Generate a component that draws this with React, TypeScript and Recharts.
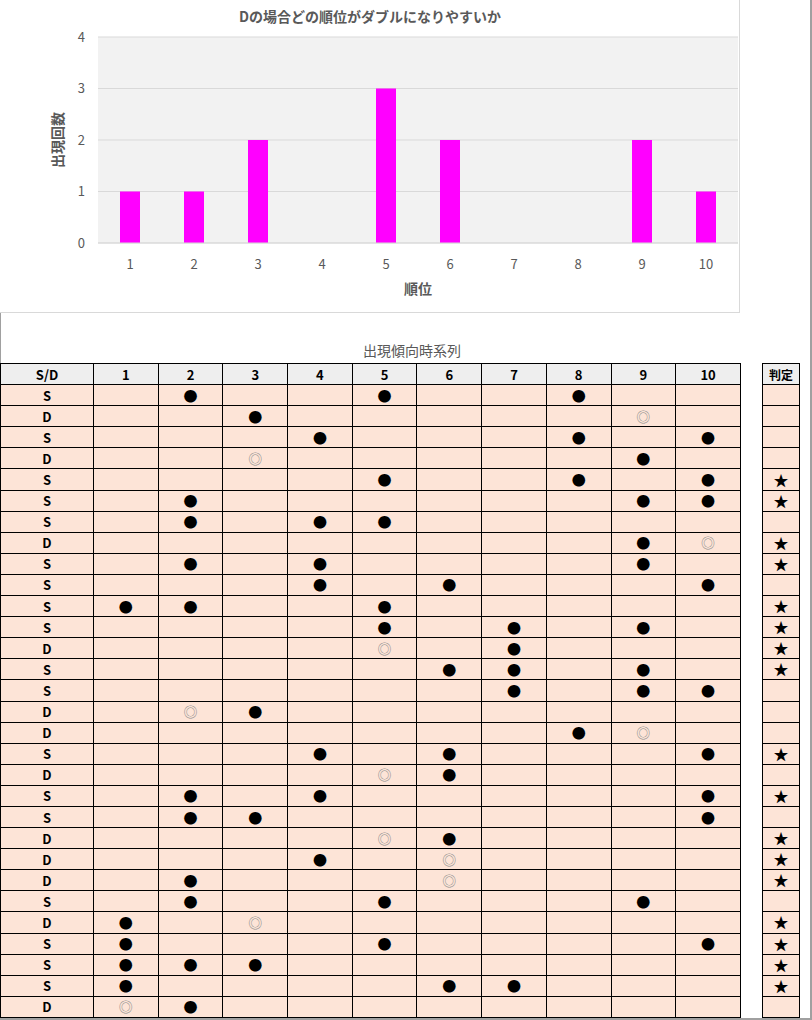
import React from 'react';
import { BarChart, Bar, XAxis, YAxis, CartesianGrid } from 'recharts';

const ranks = ['1', '2', '3', '4', '5', '6', '7', '8', '9', '10'];
const doubleCounts = [1, 1, 2, 0, 3, 2, 0, 0, 2, 1];
const yTicks = [0, 1, 2, 3, 4];

const sdTypes = ['S','D','S','D','S','S','S','D','S','S','S','S','D','S','S','D','D','S','D','S','S','D','D','D','S','D','S','S','S','D'];
const dotPositions = [
  [2, 5, 8], [3], [4, 8, 10], [9], [5, 8, 10], [2, 9, 10], [2, 4, 5], [9], [2, 4, 9], [4, 6, 10],
  [1, 2, 5], [5, 7, 9], [7], [6, 7, 9], [7, 9, 10], [3], [8], [4, 6, 10], [6], [2, 4, 10],
  [2, 3, 10], [6], [4], [2], [2, 5, 9], [1], [1, 5, 10], [1, 2, 3], [1, 6, 7], [2],
];
const doublePositions = [
  [], [9], [], [3], [], [], [], [10], [], [],
  [], [], [5], [], [], [2], [9], [], [5], [],
  [], [5], [6], [6], [], [3], [], [], [], [1],
];
const starFlags = [0,0,0,0,1,1,0,1,1,0,1,1,1,1,0,0,0,1,0,1,0,1,1,1,0,1,1,1,1,0];

const chartData = ranks.map((r, i) => ({ rank: r, count: doubleCounts[i] }));

const FONT = '"Noto Sans CJK JP", "Noto Sans", sans-serif';
const ROW_H = 21.1;
const cellBorder = '1px solid #000';

export default function App() {
  const tdBase: React.CSSProperties = {
    border: cellBorder,
    padding: 0,
    textAlign: 'center',
    verticalAlign: 'middle',
    background: '#fde4d7',
    fontSize: 13,
    lineHeight: '13px',
    height: ROW_H - 1,
    overflow: 'hidden',
  };
  const thBase: React.CSSProperties = {
    ...tdBase,
    background: '#eeeeee',
    fontWeight: 'bold',
  };
  const colW = (740 - 93) / 10;

  return (
    <div style={{ position: 'absolute', left: 0, top: 0, width: 812, height: 1020, background: '#fff', fontFamily: FONT, overflow: 'hidden' }}>
      {/* page edge lines */}
      <div style={{ position: 'absolute', left: 810, top: 0, width: 2, height: 1020, background: '#a0a0a0' }} />
      <div style={{ position: 'absolute', left: 0, top: 313, width: 1, height: 707, background: '#a0a0a0' }} />
      <div style={{ position: 'absolute', left: 0, top: 1018, width: 812, height: 2, background: '#a0a0a0' }} />

      {/* chart box */}
      <div style={{ position: 'absolute', left: 0, top: 0, width: 739, height: 312, border: '1px solid #d9d9d9', borderTop: 'none', borderLeft: 'none', boxSizing: 'content-box' }}>
        <div style={{ position: 'absolute', left: 0, top: 6, width: 740, textAlign: 'center', fontSize: 14, fontWeight: 'bold', color: '#595959', lineHeight: '20px' }}>
          Dの場合どの順位がダブルになりやすいか
        </div>
        <BarChart
          width={740}
          height={313}
          data={chartData}
          margin={{ top: 37, right: 2, bottom: 14, left: 0 }}
          style={{ fontFamily: FONT }}
        >
          <CartesianGrid vertical={false} stroke="#d9d9d9" fill="#f2f2f2" />
          <XAxis
            dataKey="rank"
            height={56}
            tickLine={false}
            axisLine={{ stroke: '#d9d9d9' }}
            tickMargin={11}
            tick={{ fill: '#595959', fontSize: 13 }}
            label={{ value: '順位', position: 'insideBottom', offset: 5, fill: '#595959', fontSize: 14, fontWeight: 'bold' }}
          />
          <YAxis
            width={98}
            domain={[0, 4]}
            ticks={yTicks}
            tickLine={false}
            axisLine={false}
            tickMargin={7}
            tick={{ fill: '#595959', fontSize: 13 }}
            label={{ value: '出現回数', angle: -90, position: 'center', dx: 9, fill: '#595959', fontSize: 14, fontWeight: 'bold' }}
          />
          <Bar dataKey="count" fill="#ff00ff" barSize={20} isAnimationActive={false} />
        </BarChart>
      </div>

      {/* table title */}
      <div style={{ position: 'absolute', left: 0, top: 340, width: 824, textAlign: 'center', fontSize: 14, color: '#595959', lineHeight: '20px' }}>
        出現傾向時系列
      </div>

      {/* main table */}
      <table style={{ position: 'absolute', left: 0, top: 363, width: 741, borderCollapse: 'collapse', tableLayout: 'fixed', fontFamily: FONT }}>
        <colgroup>
          <col style={{ width: 93 }} />
          {ranks.map((r) => (
            <col key={r} style={{ width: colW }} />
          ))}
        </colgroup>
        <thead>
          <tr style={{ height: ROW_H }}>
            <th style={thBase}>S/D</th>
            {ranks.map((r) => (
              <th key={r} style={thBase}>{r}</th>
            ))}
          </tr>
        </thead>
        <tbody>
          {sdTypes.map((t, i) => (
            <tr key={i} style={{ height: ROW_H }}>
              <td style={{ ...tdBase, fontWeight: 'bold' }}>{t}</td>
              {ranks.map((r, j) => {
                const pos = j + 1;
                const isDot = dotPositions[i].includes(pos);
                const isDouble = doublePositions[i].includes(pos);
                return (
                  <td key={r} style={tdBase}>
                    {isDot ? (
                      <span style={{ fontSize: 14, color: '#000' }}>●</span>
                    ) : isDouble ? (
                      <span style={{ fontSize: 14, color: '#8c8c8c' }}>◎</span>
                    ) : null}
                  </td>
                );
              })}
            </tr>
          ))}
        </tbody>
      </table>

      {/* judgement table */}
      <table style={{ position: 'absolute', left: 762, top: 363, width: 38, borderCollapse: 'collapse', tableLayout: 'fixed', fontFamily: FONT }}>
        <thead>
          <tr style={{ height: ROW_H }}>
            <th style={{ ...thBase, fontSize: 12 }}>判定</th>
          </tr>
        </thead>
        <tbody>
          {starFlags.map((s, i) => (
            <tr key={i} style={{ height: ROW_H }}>
              <td style={tdBase}>{s ? <span style={{ fontSize: 15 }}>★</span> : null}</td>
            </tr>
          ))}
        </tbody>
      </table>
    </div>
  );
}
